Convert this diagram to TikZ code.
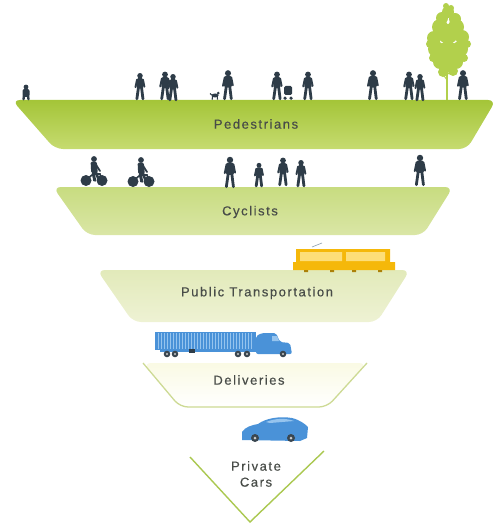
\documentclass[tikz,border=0pt]{standalone}
\usepackage{fontspec}
\newfontfamily\labfont{Liberation Sans}[LetterSpace=12, FakeBold=0.4]
\definecolor{silc}{RGB}{46,60,72}
\definecolor{labc}{RGB}{72,76,72}
\definecolor{pedtop}{RGB}{164,197,56}
\definecolor{pedbot}{RGB}{198,219,112}
\definecolor{cyctop}{RGB}{200,220,128}
\definecolor{cycbot}{RGB}{218,230,166}
\definecolor{pubtop}{RGB}{226,234,186}
\definecolor{pubbot}{RGB}{238,242,212}
\definecolor{deltop}{RGB}{250,250,228}
\definecolor{delline}{RGB}{205,218,148}
\definecolor{carline}{RGB}{170,200,80}
\definecolor{leaf}{RGB}{178,208,76}
\definecolor{tramc}{RGB}{245,184,10}
\definecolor{tramw}{RGB}{253,222,120}
\definecolor{bluev}{RGB}{74,146,216}
\definecolor{bluedk}{RGB}{52,118,190}
\definecolor{bluelt}{RGB}{150,196,238}
\tikzset{
  layer/.style={rounded corners=8pt},
  lab/.style={font=\labfont\fontsize{13}{15}\selectfont, text=labc, align=center},
  wheel/.style={fill=silc!85!gray},
  pics/walker/.style={code={
    \fill[silc] (0,-25.5) circle (2.9);
    \fill[silc, rounded corners=1.5pt] (-3.5,-23) -- (3.5,-23) -- (3.7,-12) -- (-3.7,-12) -- cycle;
    \draw[silc, line width=2.8pt, line cap=round] (-1.7,-12.5) -- (-3.3,-1.2) (1.7,-12.5) -- (3.1,-1.2);
    \draw[silc, line width=1.9pt, line cap=round] (-3.1,-21.5) -- (-4.8,-13.5) (3.1,-21.5) -- (4.6,-14);
  }},
  pics/child/.style={code={
    \fill[silc] (0,-13) circle (2.4);
    \fill[silc, rounded corners=2pt] (-3.5,-11) rectangle (3.5,-3);
    \draw[silc, line width=2.4pt, line cap=round] (-2,-4) -- (-2.5,-0.8) (2,-4) -- (2.5,-0.8);
  }},
  pics/dog/.style={code={
    \fill[silc] (0,-4.5) ellipse (3.5 and 2);
    \fill[silc] (3.2,-6.8) circle (1.5);
    \draw[silc, line width=1.1pt] (-2.5,-4) -- (-2.8,-0.3) (2.3,-4) -- (2.5,-0.3) (-3.3,-5) -- (-5,-6.5);
  }},
  pics/stroller/.style={code={
    \fill[silc, rounded corners=1.5pt] (-4,-14) -- (4,-14) -- (4,-5) -- (-4,-5) -- cycle;
    \fill[silc] (-3,-1.8) circle (1.8) (3,-1.8) circle (1.8);
  }},
  pics/cyclist/.style={code={
    \fill[silc] (-8,-5.5) circle (5.5) (8,-5.5) circle (5.5);
    \draw[silc, line width=1.6pt] (-8,-5.5) -- (-1,-12) -- (6,-12) -- (8,-5.5) (-1,-12) -- (0,-5);
    \fill[silc] (0,-27) circle (2.9);
    \fill[silc, rounded corners=1.5pt] (-3.4,-24.5) -- (2.8,-24.5) -- (3.8,-13) -- (-2.8,-13) -- cycle;
    \draw[silc, line width=2.6pt, line cap=round] (-1,-13.5) -- (1,-5.5) (2,-13.5) -- (4,-8);
    \draw[silc, line width=1.8pt, line cap=round] (1.5,-22) -- (6,-15);
  }},
}
\begin{document}
\begin{tikzpicture}[x=1pt, y=-1pt]
\useasboundingbox (0,0) rectangle (496,524);

% ---- layer bands ----
\shade[layer, top color=pedtop, bottom color=pedbot]
  (12,100) -- (496,100) -- (467,149) -- (55,149) -- cycle;
\shade[layer, top color=cyctop, bottom color=cycbot]
  (53,187) -- (453,187) -- (423,235) -- (87,235) -- cycle;
\shade[layer, top color=pubtop, bottom color=pubbot]
  (97,270) -- (410,270) -- (377,322) -- (133,322) -- cycle;
\shade[layer, top color=deltop, bottom color=white]
  (143,363) -- (367,363) -- (327,407) -- (180,407) -- cycle;
\draw[delline, line width=1.3pt, rounded corners=8pt]
  (143,363) -- (180,407) -- (327,407) -- (367,363);
\draw[carline, line width=1.4pt]
  (190,457) -- (250,522) -- (324,451);

% ---- labels ----
\node[lab] (ped) at (256,124) {Pedestrians};
\node[lab] (cyc) at (250,212) {Cyclists};
\node[lab] (pub) at (257,293) {Public Transportation};
\node[lab] (del) at (249,380) {Deliveries};
\node[lab] (car) at (256,474) {Private\\[1pt]Cars};

% ---- tree ----
\draw[leaf, line width=1.6pt] (447,100) -- (447,55);
\draw[leaf, line width=1pt] (447,80) -- (440,70) (447,75) -- (455,66);
\foreach \cx/\cy/\r in {448/12/6, 442/18/6, 455/19/6, 440/27/8, 456/27/8,
    434/38/7, 462/37/7, 448/34/10, 436/49/8, 460/49/8, 448/50/9,
    440/62/7, 456/62/7, 448/64/8, 443/72/5, 453/71/5, 430/44/4, 467/44/4,
    433/58/4, 464/58/4, 446/6/3, 451/8/3}
  \fill[leaf] (\cx,\cy) circle (\r);

% ---- pedestrians ----
\pic at (26,100) {child};
\pic[scale=0.95] at (140,100) {walker};
\pic at (165,100) {walker};
\pic[scale=0.95] at (173,101) {walker};
\pic at (215,100) {dog};
\pic[scale=1.05] at (228,100) {walker};
\pic at (277,100) {walker};
\pic at (288,100) {stroller};
\pic at (308,100) {walker};
\pic[scale=1.05] at (373,100) {walker};
\pic at (409,100) {walker};
\pic[scale=0.95] at (420,101) {walker};
\pic[scale=1.05] at (463,100) {walker};

% ---- cyclists row ----
\pic at (94,186) {cyclist};
\pic at (141,187) {cyclist};
\pic[scale=1.1] at (230,188) {walker};
\pic[scale=0.85] at (259,187) {walker};
\pic[scale=1.0] at (283,186) {walker};
\pic[scale=0.95] at (301,187) {walker};
\pic[scale=1.1] at (420,186) {walker};

% ---- tram ----
\draw[bluelt!40!gray, line width=0.6pt] (312,247) -- (322,243);
\fill[tramc] (296,249) -- (390,249) -- (390,262) -- (395,262) -- (395,270) -- (293,270) -- (293,262) -- (296,262) -- cycle;
\fill[tramw] (300,252) rectangle (342,261) (346,252) rectangle (385,261);
\fill[tramc!70!black] (304,270) rectangle (308,272) (330,270) rectangle (334,272)
  (352,270) rectangle (356,272) (378,270) rectangle (382,272);

% ---- truck ----
\fill[bluev] (155,332) rectangle (256,350);
\foreach \sx in {158,161,...,253} \draw[bluelt, line width=0.5pt] (\sx,333) -- (\sx,349);
\fill[bluev, rounded corners=2pt] (256,354) -- (256,336) -- (262,333) -- (276,333) -- (280,342) -- (290,343) -- (292,354) -- cycle;
\fill[bluelt] (272,336) -- (277,336) -- (279,341) -- (272,341) -- cycle;
\fill[bluev] (160,350) rectangle (256,352);
\fill[silc] (189,349) rectangle (195,353);
\foreach \wx in {167,175,238,247,283}
  \fill[wheel] (\wx,354) circle (3.3);
\foreach \wx in {167,175,238,247,283}
  \fill[gray!40] (\wx,354) circle (1.2);

% ---- car ----
\fill[bluev] (242,440) -- (242,432) .. controls (245,427) and (252,425) .. (258,424)
  .. controls (266,418) and (280,416) .. (292,418) .. controls (300,420) and (305,424) .. (308,427)
  -- (307,438) -- (300,441) -- cycle;
\fill[bluelt] (266,422) .. controls (276,418) and (286,418) .. (294,421) -- (270,423) -- cycle;
\fill[wheel] (255,438) circle (4) (291,438) circle (4);
\fill[gray!40] (255,438) circle (1.5) (291,438) circle (1.5);
\end{tikzpicture}
\end{document}
